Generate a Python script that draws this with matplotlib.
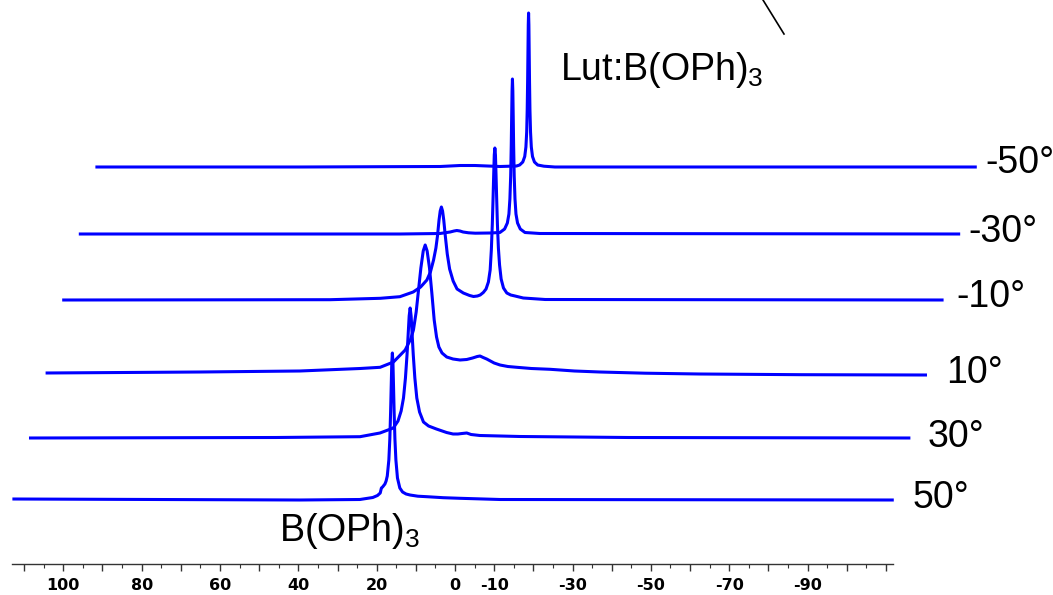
import numpy as np
import matplotlib
matplotlib.use("Agg")
import matplotlib.pyplot as plt
from matplotlib.lines import Line2D
from matplotlib.ticker import FixedLocator, FixedFormatter, MultipleLocator

# 11B NMR, variable temperature, stacked traces (bottom = 50 deg)
TEMPS = ["50°", "30°", "10°", "-10°", "-30°", "-50°"]

# chemical shift (ppm) / intensity (arb.)
PPM_50 = [113, 39.6, 24.3, 21.0, 19.8, 19.1, 18.8, 18.5, 18.2, 17.9, 17.6, 17.3,
          16.9, 16.65, 16.45, 16.3, 16.15, 16.0, 15.85, 15.7, 15.55, 15.35,
          15.1, 14.7, 14.1, 13.4, 12.5, 11.5, 9.5, 7.2, 3.0, -1.3, -11.5, -112]
INT_50 = [1, 0, 0.5, 2.5, 4.5, 7, 12, 13, 14.5, 16, 19, 24,
          40, 61, 88, 113, 137, 147, 137, 113, 88, 61,
          40, 22, 12, 8, 6, 5, 3.8, 3.3, 2.3, 1.7, 0.5, 0]

PPM_30 = [113, 50, 28.5, 23.4, 20.0, 18.8, 18.0, 17.4, 16.9, 16.5, 16.2, 15.95,
          15.7, 15.45, 15.2, 14.9, 14.5, 14.0, 13.3, 12.3, 11.0, 9.0, 6.4, 4.75,
          3.5, 2.45, 1.25, 0.15, -2.1, -12.4, -40, -112]
INT_30 = [0, 0.5, 1.3, 5, 10, 17, 27, 40, 60, 83, 104, 122,
          130, 122, 104, 83, 60, 40, 26, 16, 12, 9, 5.5, 4,
          4, 4.5, 5, 3.5, 2.5, 1.5, 0.5, 0]

PPM_10 = [113, 73.6, 48.1, 32.7, 27.6, 24.2, 21.2, 19.8, 19.1, 18.4, 17.8, 17.2,
          16.6, 16.1, 15.6, 15.0, 14.4, 13.8, 13.2, 12.6, 11.8, 10.6, 9.0, 7.2,
          5.5, 4.0, 2.8, 2.1, 1.3, 0.4, -1.5, -3.0, -5.0, -7.3, -11.0, -15.8,
          -22, -28.5, -40, -54, -80, -112]
INT_10 = [2, 3, 4, 6.5, 7.7, 13, 25, 36, 45, 63, 85, 107,
          124, 130, 124, 107, 82, 55, 38, 28, 22, 18, 16, 15,
          15.5, 17, 18.5, 19, 17.5, 16, 12, 10, 8.5, 7.7, 6.5, 5.7,
          4, 3, 1.8, 1, 0.3, 0]

PPM_M10 = [113, 44.6, 31.8, 26.8, 23.4, 21.5, 19.9, 19.0, 18.2, 17.6, 17.2, 16.8,
           16.5, 16.2, 15.9, 15.6, 15.2, 14.7, 14.1, 13.2, 12.2, 10.6, 9.0, 8.0,
           7.0, 6.3, 5.5, 4.8, 4.2, 3.75, 3.45, 3.2, 3.0, 2.85, 2.7, 2.55,
           2.4, 2.25, 2.1, 1.9, 1.65, 1.35, 0.95, 0.35, -0.5, -1.5, -2.6, -4.7,
           -10.3, -112]
INT_M10 = [0, 0.3, 1.7, 3.3, 8, 13, 20, 28, 40, 52, 64, 80,
           89, 93, 89, 80, 64, 46, 31, 19, 11, 7, 4.5, 3.5,
           4, 5, 7.5, 11, 18, 30, 50, 76, 103, 125, 145, 152,
           145, 125, 103, 76, 52, 35, 21, 12, 7, 5, 4, 2,
           0.5, 0]

PPM_M30 = [113, 31.0, 20.8, 18.2, 17.2, 16.5, 15.7, 14.9, 13.5, 11.8, 8.0, 5.5,
           4.3, 3.6, 3.2, 2.95, 2.75, 2.6, 2.5, 2.4, 2.3, 2.2, 2.1, 2.0,
           1.85, 1.65, 1.4, 1.0, 0.3, -0.9, -4.7, -112]
INT_M30 = [0, 0, 0.5, 2, 3, 3.5, 3, 2, 1.2, 0.8, 1, 1.5,
           5, 11, 20, 35, 58, 89, 117, 143, 155, 143, 117, 89,
           58, 35, 20, 11, 5, 1.5, 0.5, 0]

PPM_M50 = [113, 60.8, 25.0, 19.9, 16.1, 9.7, 5.5, 4.7, 3.9, 3.4, 3.1, 2.9,
           2.77, 2.66, 2.58, 2.5, 2.42, 2.34, 2.26, 2.18, 2.07, 1.92, 1.72, 1.42,
           0.92, 0.1, -1.5, -4.3, -112]
INT_M50 = [0, 0, 0.5, 1.5, 1.5, 0.5, 1, 2, 5, 10.5, 20, 35,
           57, 86, 114, 142, 154, 142, 114, 86, 57, 35, 20, 10.5,
           5, 2, 0.8, 0, 0]

TICK_VALUES = [100, 80, 60, 40, 20, 0, -10, -30, -50, -70, -90]
TICK_LABELS = ["100", "80", "60", "40", "20", "0", "-10", "-30", "-50", "-70", "-90"]

traces = [(PPM_50, INT_50), (PPM_30, INT_30), (PPM_10, INT_10),
          (PPM_M10, INT_M10), (PPM_M30, INT_M30), (PPM_M50, INT_M50)]

# layout (figure is 1053 x 595 px)
W, H = 1053, 595
baselines = [64, 126, 189, 264, 330, 397]   # px above the axis line
xshift = 4.238                               # ppm per trace (skew of the stack)
label_pos = [(913, 508), (928, 447), (946, 383), (956, 307), (968, 242), (985, 173)]

plt.rcParams["font.family"] = ["Liberation Sans", "DejaVu Sans"]
plt.rcParams["mathtext.default"] = "regular"

fig = plt.figure(figsize=(W / 100, H / 100), dpi=100)
ax = fig.add_axes([12 / W, (H - 564) / H, 881 / W, 564 / H])

blue = "#0000ff"
for i, (ppm, inten) in enumerate(traces):
    x = np.array(ppm) - i * xshift
    y = np.array(inten) + baselines[i]
    ax.plot(x, y, color=blue, lw=2.2, clip_on=False,
            solid_joinstyle="round", solid_capstyle="butt")

ax.set_xlim(113.1, -111.8)
ax.set_ylim(0, 564)
for s in ["left", "right", "top"]:
    ax.spines[s].set_visible(False)
ax.spines["bottom"].set_color("#333333")
ax.spines["bottom"].set_linewidth(1.0)
ax.set_yticks([])

major = list(range(110, -111, -10))
ax.xaxis.set_major_locator(FixedLocator(major))
ax.xaxis.set_major_formatter(FixedFormatter(
    [TICK_LABELS[TICK_VALUES.index(v)] if v in TICK_VALUES else "" for v in major]))
ax.xaxis.set_minor_locator(MultipleLocator(5))
ax.tick_params(axis="x", which="major", length=5, width=1.0, color="#333333",
               pad=5, labelsize=11.5)
ax.tick_params(axis="x", which="minor", length=3, width=0.8, color="#333333")
for lab in ax.get_xticklabels():
    lab.set_fontweight("bold")
    lab.set_family(["Liberation Sans Narrow", "DejaVu Sans"])


def px(x, y):
    return x / W, 1 - y / H


for t, (lx, ly) in zip(TEMPS, label_pos):
    fig.text(*px(lx, ly), t, fontsize=27, va="baseline", ha="left")

fig.text(*px(279, 541), "B(OPh)$_3$", fontsize=27, va="baseline", ha="left")
fig.text(*px(560, 80), "Lut:B(OPh)$_3$", fontsize=27, va="baseline", ha="left")

fig.add_artist(Line2D([763 / W, 784 / W], [1, 1 - 34 / H], color="black", lw=1.2))

fig.savefig("out.png", dpi=100)
